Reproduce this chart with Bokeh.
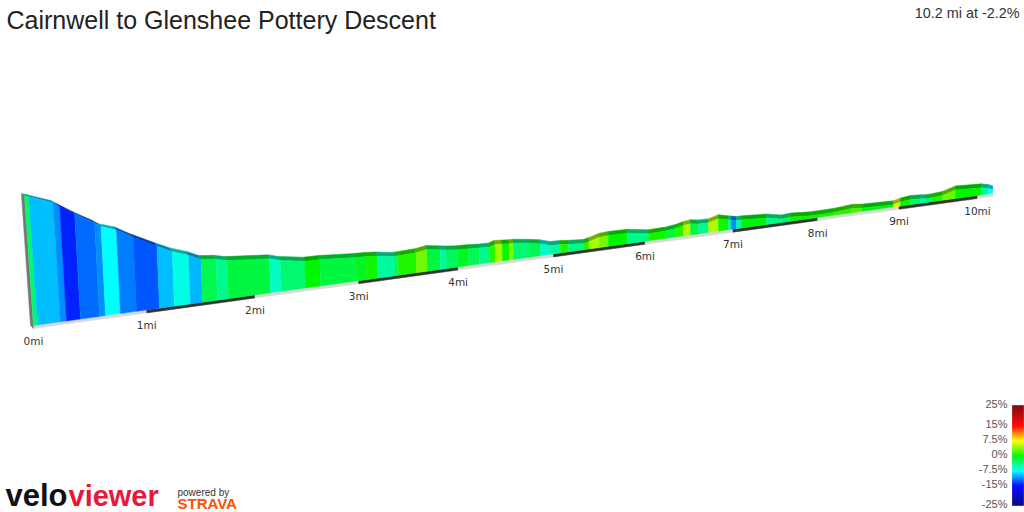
from bokeh.plotting import figure
from bokeh.models import Range1d
from bokeh.core.properties import value
from bokeh.embed import file_html
from bokeh.resources import INLINE

TITLE = "Cairnwell to Glenshee Pottery Descent"
SUMMARY = "10.2 mi at -2.2%"

miles = [0, .035, .234, .287, .41, .578, .631, .764, .908, 1.116, 1.252, 1.399, 1.51, 1.649, 1.751,
         2.147, 2.251, 2.482, 2.627, 2.978, 3.077, 3.186, 3.345, 3.395, 3.576, 3.687, 3.82, 3.881, 3.994,
         4.107, 4.221, 4.324, 4.387, 4.46, 4.534, 4.576, 4.745, 4.861, 4.968, 5.075, 5.161, 5.323, 5.388,
         5.497, 5.596, 5.805, 6.038, 6.229, 6.341, 6.432, 6.512, 6.603, 6.717, 6.832, 6.947, 6.98, 7.04,
         7.098, 7.391, 7.568, 7.675, 7.914, 8.192, 8.423, 8.546, 8.93, 9.018, 9.144, 9.27, 9.333, 9.409,
         9.549, 9.716, 10.052, 10.143, 10.2]
elev_m = [671, 667, 642, 630, 603, 570, 558, 543, 516, 481, 460, 443, 426, 421, 413,
          402, 393, 381, 380, 372, 371, 368, 360, 360, 362, 367, 361, 358, 354,
          353, 350, 349, 355, 353, 351, 351, 344, 338, 328, 327, 324, 320, 324,
          333, 335, 334, 323, 324, 328, 334, 337, 333, 332, 341, 333, 331, 327,
          327, 322, 312, 314, 309, 310, 315, 311, 308, 314, 318, 316, 314, 314,
          317, 330, 325, 319, 313]
grade = [-3.3, -9.4, -10.8, -14, -11.8, -10.8, -7.5, -11.3, -12.5, -9.4, -6.8, -9.6, -2.4, -4.2,
         -1.9, -5.6, -3.3, 0, -1.9, -1, .5, -4.7, -3.3, .9, 3.3, -1.9, -4.7, -2.8,
         -1, -2.4, -4.2, 1.2, 4.7, .3, 3.8, -3.3, -2.4, -5.9, -4.7, .9, -3.8, 1.2,
         5, 3.3, 0, -4, .5, -1.5, 1, 5.2, -1.9, -4.2, 5.2, .5, -4.7, -10.8,
         -4.7, -.3, -4, -2.8, .3, .5, 1.2, 2, -.5, 6.5, .3, -2.8, -4.7, -2.8, .9,
         3, 0, -4.7, -7.5]
mile_ticks = [0, 1, 2, 3, 4, 5, 6, 7, 8, 9, 10]
scale_ticks = [25, 15, 7.5, 0, -7.5, -15, -25]

STOPS = [(-25, (0, 0, 128)), (-15, (0, 0, 255)), (-7.5, (0, 255, 255)), (0, (0, 245, 0)),
         (7.5, (255, 255, 0)), (15, (255, 0, 0)), (25, (128, 0, 0))]


def rgb(g, k=1.0):
    g = max(-25, min(25, g))
    for (a, ca), (b, cb) in zip(STOPS, STOPS[1:]):
        if g <= b:
            t = (g - a) / (b - a)
            c = [int((u + (v - u) * t) * k) for u, v in zip(ca, cb)]
            return "#%02x%02x%02x" % tuple(c)


# view projection of the 3D ribbon
A, B = 115.77, 0.02264
X0, Y0, YSLOPE = 33.0, 325.0, 0.1377
PX_PER_M, REF_M = 0.35, 300.0


def sx(d):
    return X0 + A * d / (1 + B * d)


def sy(d):
    return Y0 - YSLOPE * (sx(d) - X0)


def top(d, e):
    h = (e - REF_M) * PX_PER_M / (1 + B * d)
    return sx(d) - h * 0.07 / (1 + 0.6 * d), sy(d) - h


def back(d, e):
    x, y = top(d, e)
    return x - max(0.0, 3 - 0.5 * d), y - min(4.0, 2 + 1.4 * d)


p = figure(width=1024, height=512, x_range=Range1d(0, 1024), y_range=Range1d(512, 0),
           toolbar_location=None, output_backend="svg", min_border=0, outline_line_color=None,
           background_fill_color="white", border_fill_color="white")
p.axis.visible = False
p.grid.visible = False

# base strip with alternating mile bands
sxs, sys, scs = [], [], []
edges = mile_ticks + [10.2]
for i, (a, b) in enumerate(zip(edges, edges[1:])):
    sxs.append([sx(a), sx(b), sx(b), sx(a)])
    sys.append([sy(a), sy(b), sy(b) + 3, sy(a) + 3])
    scs.append("#333333" if i % 2 else "#d8d8d8")
p.patches(sxs, sys, fill_color=scs, fill_alpha=1, line_color=scs, line_alpha=1, line_width=0.5)

# left end cap
x0t, y0t = top(0, elev_m[0])
x0b, y0b = back(0, elev_m[0])
p.patch([x0b, x0t, sx(0), sx(0) - 3], [y0b, y0t, sy(0) + 3, sy(0)], fill_color="#777777", fill_alpha=1,
        line_color="#777777", line_alpha=1, line_width=0.5)

# top surface then front face
txs, tys, tcs, fxs, fys, fcs = [], [], [], [], [], []
for i, g in enumerate(grade):
    d0, d1, e0, e1 = miles[i], miles[i + 1], elev_m[i], elev_m[i + 1]
    ax, ay = top(d0, e0)
    bx, by = top(d1, e1)
    cx, cy = back(d1, e1)
    ex, ey = back(d0, e0)
    txs.append([ax, bx, cx, ex])
    tys.append([ay, by, cy, ey])
    tcs.append(rgb(g, 0.7))
    fxs.append([ax, bx, sx(d1), sx(d0)])
    fys.append([ay, by, sy(d1), sy(d0)])
    fcs.append(rgb(g))
p.patches(txs, tys, fill_color=tcs, fill_alpha=1, line_color=tcs, line_alpha=1, line_width=0.5)
p.patches(fxs, fys, fill_color=fcs, fill_alpha=1, line_color=fcs, line_alpha=1, line_width=0.4)

# mile labels
p.text([sx(m) for m in mile_ticks], [sy(m) + 15 for m in mile_ticks], text=[f"{m}mi" for m in mile_ticks],
       text_font=value("DejaVu Sans"), text_font_size="10.5px", text_color="#333333",
       text_align="center", text_baseline="middle")

# gradient scale
levels = [-25 + 0.5 * i for i in range(100)]
scale_colors = [rgb(v + 0.25) for v in levels]
p.quad(left=1012, right=1023, top=[455 - 2 * (v + 0.5) for v in levels], bottom=[455 - 2 * v for v in levels],
       fill_color=scale_colors, fill_alpha=1, line_color=scale_colors, line_alpha=1, line_width=0.6)
p.text([1007] * len(scale_ticks), [453.5 - 2 * v for v in scale_ticks], text=[f"{v}%" for v in scale_ticks],
       text_font=value("Liberation Sans"), text_font_size="11px", text_color="#555555",
       text_align="right", text_baseline="middle")

# title and summary
p.text([6], [19], text=[TITLE], text_font=value("Liberation Sans"), text_font_size="25px", text_color="#222222",
       text_align="left", text_baseline="middle")
p.text([1019], [12.5], text=[SUMMARY], text_font=value("Liberation Sans"), text_font_size="14.4px", text_color="#333333",
       text_align="right", text_baseline="middle")

# logos
p.text([5], [495], text=["velo"], text_font=value("Liberation Sans"), text_font_style="bold", text_font_size="31px",
       text_color="#111111", text_align="left", text_baseline="middle")
p.text([68], [495], text=["viewer"], text_font=value("Liberation Sans"), text_font_style="bold", text_font_size="29px",
       text_color="#e8173c", text_align="left", text_baseline="middle")
p.text([177], [492], text=["powered by"], text_font=value("Liberation Sans"), text_font_size="10px", text_color="#333333",
       text_align="left", text_baseline="middle")
p.text([177], [503], text=["STRAVA"], text_font=value("Liberation Sans"), text_font_style="bold", text_font_size="15px",
       text_color="#fc5200", text_align="left", text_baseline="middle")

open("out.html", "w").write(file_html(p, INLINE))
